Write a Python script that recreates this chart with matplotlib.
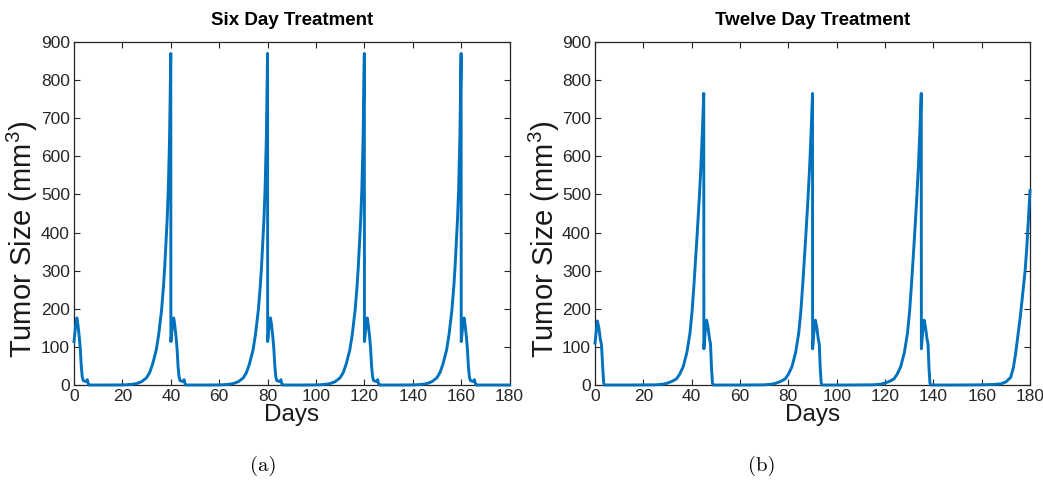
import matplotlib
matplotlib.use("Agg")
import matplotlib.pyplot as plt

# ---- data ----
days_six = [0, 0.6, 1.2, 1.6, 2.2, 2.6, 3.0, 3.4, 3.8, 4.5, 5.2, 5.5, 5.9, 6.3,
            15, 20, 22, 24, 26, 28, 30, 31.3, 32.5, 34, 35, 36.2, 37, 37.5, 38, 38.5, 39, 39.5, 40,
            40.05, 40.6, 41.2, 41.6, 42.2, 42.6, 43.0, 43.4, 43.8, 44.5, 45.2, 45.5, 45.9, 46.3,
            55, 60, 62, 64, 66, 68, 70, 71.3, 72.5, 74, 75, 76.2, 77, 77.5, 78, 78.5, 79, 79.5, 80,
            80.05, 80.6, 81.2, 81.6, 82.2, 82.6, 83.0, 83.4, 83.8, 84.5, 85.2, 85.5, 85.9, 86.3,
            95, 100, 102, 104, 106, 108, 110, 111.3, 112.5, 114, 115, 116.2, 117, 117.5, 118, 118.5, 119, 119.5, 120,
            120.05, 120.6, 121.2, 121.6, 122.2, 122.6, 123.0, 123.4, 123.8, 124.5, 125.2, 125.5, 125.9, 126.3,
            135, 140, 142, 144, 146, 148, 150, 151.3, 152.5, 154, 155, 156.2, 157, 157.5, 158, 158.5, 159, 159.5, 160,
            160.05, 160.6, 161.2, 161.6, 162.2, 162.6, 163.0, 163.4, 163.8, 164.5, 165.2, 165.5, 165.9, 166.3,
            175, 180]
size_six = [114, 150, 176, 160, 125, 95, 50, 22, 12, 10, 9, 14, 3, 0,
            0, 0.3, 0.8, 1.8, 4, 9, 19, 33, 55, 92, 132, 197, 260, 310, 370, 433, 520, 650, 870,
            114, 150, 176, 160, 125, 95, 50, 22, 12, 10, 9, 14, 3, 0,
            0, 0.3, 0.8, 1.8, 4, 9, 19, 33, 55, 92, 132, 197, 260, 310, 370, 433, 520, 650, 870,
            114, 150, 176, 160, 125, 95, 50, 22, 12, 10, 9, 14, 3, 0,
            0, 0.3, 0.8, 1.8, 4, 9, 19, 33, 55, 92, 132, 197, 260, 310, 370, 433, 520, 650, 870,
            114, 150, 176, 160, 125, 95, 50, 22, 12, 10, 9, 14, 3, 0,
            0, 0.3, 0.8, 1.8, 4, 9, 19, 33, 55, 92, 132, 197, 260, 310, 370, 433, 520, 650, 870,
            114, 150, 176, 160, 125, 95, 50, 22, 12, 10, 9, 14, 3, 0,
            0, 0]

days_twelve = [0, 0.5, 1.0, 1.6, 2.2, 2.7, 3.2, 3.6, 4.0,
               15, 25, 28, 30, 32, 33.7, 35, 36.5, 38, 39.3, 40.2, 41, 42.3, 43.1, 43.8, 44.4, 45,
               45.05, 45.6, 46.2, 46.8, 47.4, 47.8, 48.2, 48.6, 49,
               60, 70, 73, 75, 77, 78.7, 80, 81.5, 83, 84.3, 85.2, 86, 87.3, 88.1, 88.8, 89.4, 90,
               90.05, 90.6, 91.2, 91.8, 92.4, 92.8, 93.2, 93.6, 94,
               105, 115, 118, 120, 122, 123.7, 125, 126.5, 128, 129.3, 130.2, 131, 132.3, 133.1, 133.8, 134.4, 135,
               135.05, 135.6, 136.2, 136.8, 137.4, 137.8, 138.2, 138.6, 139,
               150, 160, 165, 168, 170, 172, 173.1, 174, 175, 176, 177, 178, 178.6, 179.3, 180]
size_twelve = [110, 140, 168, 150, 120, 105, 45, 5, 0,
               0, 0.5, 2, 5, 10, 16, 28, 48, 85, 136, 195, 268, 398, 485, 570, 660, 765,
               95, 140, 170, 150, 120, 108, 45, 5, 0,
               0, 0.5, 2, 5, 10, 16, 28, 48, 85, 136, 195, 268, 398, 485, 570, 660, 765,
               95, 140, 170, 150, 120, 108, 45, 5, 0,
               0, 0.5, 2, 5, 10, 16, 28, 48, 85, 136, 195, 268, 398, 485, 570, 660, 765,
               95, 140, 170, 150, 120, 108, 45, 5, 0,
               0, 0.5, 1.5, 3, 8, 20, 45, 80, 130, 180, 240, 302, 354, 430, 510]

titles = ["Six Day Treatment", "Twelve Day Treatment"]
captions = ["(a)", "(b)"]
x_ticks = [0, 20, 40, 60, 80, 100, 120, 140, 160, 180]
y_ticks = [0, 100, 200, 300, 400, 500, 600, 700, 800, 900]

# ---- style ----
plt.rcParams['font.family'] = ['Liberation Sans', 'DejaVu Sans']
plt.rcParams['mathtext.fontset'] = 'custom'
plt.rcParams['mathtext.rm'] = 'Liberation Sans'
plt.rcParams['mathtext.it'] = 'Liberation Sans:italic'
plt.rcParams['mathtext.bf'] = 'Liberation Sans:bold'

W, H = 1043, 486
fig = plt.figure(figsize=(W / 100, H / 100), dpi=100)

line_color = '#0072BD'
axis_color = '#262626'

def px_axes(x0, x1, y0, y1):
    return [x0 / W, (H - y1) / H, (x1 - x0) / W, (y1 - y0) / H]

rects = [px_axes(74, 509.5, 42, 385), px_axes(595, 1030, 42, 385)]
series = [(days_six, size_six), (days_twelve, size_twelve)]
cap_x = [263, 762]

for i in range(2):
    ax = fig.add_axes(rects[i])
    d, s = series[i]
    ax.plot(d, s, color=line_color, lw=2.1, clip_on=False, zorder=3)
    ax.set_xlim(0, 180)
    ax.set_ylim(0, 900)
    ax.set_xticks(x_ticks)
    ax.set_yticks(y_ticks)
    ax.tick_params(direction='in', length=4, width=0.8, colors=axis_color,
                   labelsize=12.5, top=True, right=True, pad=3)
    for sp in ax.spines.values():
        sp.set_color(axis_color)
        sp.set_linewidth(0.9)
    ax.set_title(titles[i], fontsize=13.5, fontweight='bold', pad=12)
    ax.set_xlabel('Days', fontsize=17.5, labelpad=0, color='#1a1a1a')
    ax.set_ylabel('Tumor Size (mm$^3$)', fontsize=21, color='#1a1a1a')
    ax.yaxis.set_label_coords(-0.077, 0.425)
    fig.text(cap_x[i] / W, (H - 466) / H, captions[i], ha='center', va='center',
             fontsize=15, family='cmr10')

fig.savefig('out.png', dpi=100)
